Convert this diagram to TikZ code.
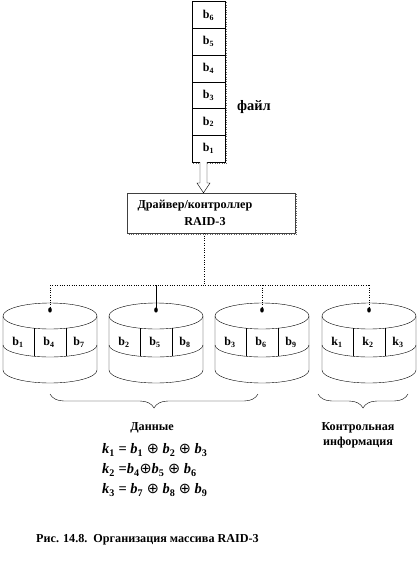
\documentclass[tikz,border=0pt]{standalone}
\usepackage{fontspec}
\setmainfont{Liberation Serif}
\newfontfamily\symfont{DejaVu Sans}
\usetikzlibrary{decorations.pathreplacing,calc}
\tikzset{
  fbox/.style={draw, minimum width=33bp, minimum height=26.7bp, inner sep=0pt, font=\bfseries\fontsize{12}{13}\selectfont},
  lbl/.style={inner sep=0pt, font=\bfseries\fontsize{12}{13}\selectfont},
  txt/.style={inner sep=0pt, font=\bfseries\fontsize{12.2}{15}\selectfont},
  frm/.style={inner sep=0pt, anchor=west, font=\bfseries\fontsize{14.5}{16}\selectfont},
  shadow/.style={dotted, black!60},
  bus/.style={dotted},
  brc/.style={decorate, decoration={brace, mirror, amplitude=14bp}},
}
\newcommand{\mydisk}[5]{%
  \begin{scope}[shift={(#2,0)}]
    \draw (-47,316) -- (-47,370) arc[start angle=180,end angle=360,x radius=47bp,y radius=13bp] -- (47,316);
    \draw (0,316) ellipse[x radius=47bp,y radius=13bp];
    \draw (-47,345) arc[start angle=180,end angle=360,x radius=47bp,y radius=12bp];
    \draw (-16,328.2) -- (-16,356.3);
    \draw (16,328.2) -- (16,356.3);
    \fill (0,310) ellipse[x radius=1.8bp,y radius=2.6bp];
    \coordinate (#1dot) at (0,310);
    \node[lbl] (#1a) at (-32,342) {#3};
    \node[lbl] (#1b) at (-1,342) {#4};
    \node[lbl] (#1c) at (29,342) {#5};
  \end{scope}}
\newcommand{\bb}[1]{b\textsubscript{#1}}
\newcommand{\kk}[1]{k\textsubscript{#1}}
\newcommand{\ib}[1]{\textit{b}\textsubscript{#1}}
\newcommand{\ik}[1]{\textit{k}\textsubscript{#1}}
\newcommand{\op}{{\symfont\mdseries ⊕}}
\begin{document}
\begin{tikzpicture}[x=1bp,y=-1bp]
\useasboundingbox (0,0) rectangle (418,567);
% file blocks
\node[fbox] (b1) at (208.5,148.5) {\bb{1}};
\node[fbox] (b2) at (208.5,121.8) {\bb{2}};
\node[fbox] (b3) at (208.5,95.1) {\bb{3}};
\node[fbox] (b4) at (208.5,68.4) {\bb{4}};
\node[fbox] (b5) at (208.5,41.7) {\bb{5}};
\node[fbox] (b6) at (208.5,15) {\bb{6}};
\draw[shadow] ($(b6.north east)+(1.2,1)$) -- ($(b1.south east)+(1.2,1.2)$) -- ($(b1.south west)+(1,1.2)$);
\node[inner sep=0pt, font=\bfseries\fontsize{14.5}{16}\selectfont] (file) at (254,107) {файл};
% controller
\node[draw=black!75, minimum width=168bp, minimum height=40bp, inner sep=0pt] (ctrl) at (211,213) {};
\draw[shadow] ($(ctrl.north east)+(1.2,1)$) -- ($(ctrl.south east)+(1.2,1.2)$) -- ($(ctrl.south west)+(1,1.2)$);
\node[txt] (ctrlA) at (195,206) {Драйвер/контроллер};
\node[txt] (ctrlB) at (205,222) {RAID-3};
% hollow arrow
\draw[fill=white] ($(b1.south)+(-8.5,0)$) -- ($(b1.south)+(-8.5,21)$) -- ($(b1.south)+(-11.5,21)$)
  -- ($(ctrl.north -| b1.south)+(-5,0)$) -- ($(b1.south)+(1.5,21)$) -- ($(b1.south)+(-1.5,21)$) -- ($(b1.south)+(-1.5,0)$);
% disks
\mydisk{d1}{50}{\bb{1}}{\bb{4}}{\bb{7}}
\mydisk{d2}{156}{\bb{2}}{\bb{5}}{\bb{8}}
\mydisk{d3}{262}{\bb{3}}{\bb{6}}{\bb{9}}
\mydisk{d4}{369}{\kk{1}}{\kk{2}}{\kk{3}}
% bus
\coordinate (busc) at ($(ctrl.south)+(-7,52)$);
\draw[bus] ($(ctrl.south)+(-7,0)$) -- (busc);
\draw[bus] (d1dot |- busc) -- (d4dot |- busc);
\draw[bus] (d1dot |- busc) -- (d1dot);
\draw (d2dot |- busc) -- (d2dot);
\draw[bus] (d3dot |- busc) -- (d3dot);
\draw[bus] (d4dot |- busc) -- (d4dot);
% braces
\coordinate (br1a) at (50,394);
\coordinate (br1b) at (258,394);
\coordinate (br2a) at (318,394);
\coordinate (br2b) at (408,394);
\draw[brc] (br1a) -- (br1b);
\draw[brc] (br2a) -- (br2b);
\node[txt] (data) at (152,428) {Данные};
\node[txt, align=center] (ctl) at (358,435) {Контрольная\\информация};
% formulas
\node[frm] (f1) at (102,450) {\ik{1} = \ib{1} \op{} \ib{2} \op{} \ib{3}};
\node[frm] (f2) at (102,470) {\ik{2} =\ib{4}\op\ib{5} \op{} \ib{6}};
\node[frm] (f3) at (102,490) {\ik{3} = \ib{7} \op{} \ib{8} \op{} \ib{9}};
% caption
\node[txt, anchor=west] (cap) at (36,540) {Рис. 14.8.\ \ Организация массива RAID-3};
\end{tikzpicture}
\end{document}
